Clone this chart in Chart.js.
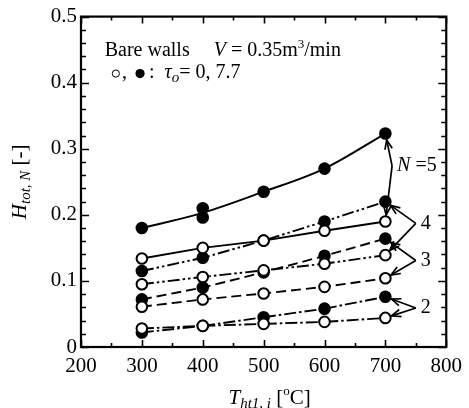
<!DOCTYPE html>
<html>
<head>
<meta charset="utf-8">
<script src="https://cdn.jsdelivr.net/npm/chart.js@4.4.1/dist/chart.umd.min.js"></script>
<style>
  html, body { margin: 0; padding: 0; background: #fff; }
  #wrap { width: 469px; height: 408px; }
</style>
</head>
<body>
<div id="wrap"><canvas id="c" width="469" height="408"></canvas></div>
<script>
// Inlet temperatures of the heating tube [°C]
const temps = [300, 400, 500, 600, 700];

// N = 5, tau_o = 7.7 (filled): measured points (two runs at 400 °C) and fitted curve
const n5FilledX = [300, 400, 400, 500, 600, 700];
const n5FilledY = [0.180, 0.210, 0.196, 0.235, 0.270, 0.323];
const n5FitY    = [0.180, 0.203, 0.235, 0.270, 0.323];
// N = 5, tau_o = 0 (open)
const n5Open    = [0.134, 0.150, 0.161, 0.176, 0.190];
// N = 4
const n4Filled  = [0.115, 0.135, 0.161, 0.190, 0.220];
const n4Open    = [0.095, 0.106, 0.116, 0.126, 0.139];
// N = 3
const n3Filled  = [0.072, 0.090, 0.113, 0.138, 0.164];
const n3Open    = [0.061, 0.072, 0.081, 0.091, 0.104];
// N = 2
const n2Filled  = [0.022, 0.032, 0.045, 0.058, 0.076];
const n2Open    = [0.028, 0.032, 0.035, 0.038, 0.044];

const xTicks = [200, 300, 400, 500, 600, 700, 800];
const yTicks = [0, 0.1, 0.2, 0.3, 0.4, 0.5];

const SERIF = '"Liberation Serif", "Times New Roman", serif';
const DASH = [10, 5];
const DASH_DOT = [12, 3, 2.5, 3];
const DASH_DOT_DOT = [12, 3, 2.5, 3, 2.5, 3];

const pts = (xs, ys) => ys.map((v, i) => ({ x: xs[i], y: v }));

function series(data, filled, dash, extra) {
  return Object.assign({
    data,
    borderColor: '#000',
    borderWidth: 1.9,
    borderDash: dash,
    backgroundColor: filled ? '#000' : '#fff',
    pointBackgroundColor: filled ? '#000' : '#fff',
    pointBorderColor: '#000',
    pointBorderWidth: 2,
    pointRadius: 5.3,
    pointStyle: 'circle',
    tension: 0,
    fill: false
  }, extra || {});
}

const datasets = [
  series(pts(temps, n2Open), false, DASH_DOT),
  series(pts(temps, n3Open), false, DASH),
  series(pts(temps, n4Open), false, DASH_DOT_DOT),
  series(pts(temps, n5Open), false, []),
  series(pts(temps, n2Filled), true, DASH_DOT),
  series(pts(temps, n3Filled), true, DASH),
  series(pts(temps, n4Filled), true, DASH_DOT_DOT),
  series(pts(temps, n5FitY), true, [], { pointRadius: 0, tension: 0.4, cubicInterpolationMode: 'monotone' }),
  series(pts(n5FilledX, n5FilledY), true, [], { showLine: false })
];

// Leader lines from the N labels to the curves they name
const leaders = [
  { text: [{ t: 'N', it: true }, { t: ' =5' }], from: [711, 0.274], to: [[700, 0.323], [700, 0.190]] },
  { text: [{ t: '4' }], from: [750, 0.187], to: [[700, 0.220], [700, 0.139]] },
  { text: [{ t: '3' }], from: [750, 0.131], to: [[700, 0.164], [700, 0.104]] },
  { text: [{ t: '2' }], from: [750, 0.059], to: [[700, 0.076], [700, 0.044]] }
];

function font(size, it) { return (it ? 'italic ' : '') + size + 'px ' + SERIF; }

function measureRich(ctx, segs, base) {
  let w = 0;
  segs.forEach(s => { ctx.font = font(s.size || base, s.it); w += ctx.measureText(s.t).width; });
  return w;
}
function drawRich(ctx, x, y, segs, base) {
  segs.forEach(s => {
    ctx.font = font(s.size || base, s.it);
    ctx.fillText(s.t, x, y + (s.dy || 0));
    x += ctx.measureText(s.t).width;
  });
  return x;
}

function arrow(ctx, x0, y0, x1, y1, r) {
  const a = Math.atan2(y1 - y0, x1 - x0);
  const ex = x1 - Math.cos(a) * r, ey = y1 - Math.sin(a) * r;
  ctx.beginPath(); ctx.moveTo(x0, y0); ctx.lineTo(ex, ey); ctx.stroke();
  const L = 10, h = 0.38;
  ctx.beginPath();
  ctx.moveTo(ex - L * Math.cos(a - h), ey - L * Math.sin(a - h));
  ctx.lineTo(ex, ey);
  ctx.lineTo(ex - L * Math.cos(a + h), ey - L * Math.sin(a + h));
  ctx.stroke();
}

const decor = {
  id: 'decor',
  afterDatasetsDraw(chart) {
    const { ctx, chartArea: ca, scales: { x, y } } = chart;
    ctx.save();
    ctx.strokeStyle = '#000';
    ctx.fillStyle = '#000';

    // frame
    ctx.lineWidth = 2.2;
    ctx.strokeRect(ca.left, ca.top, ca.right - ca.left, ca.bottom - ca.top);

    // inward ticks on all four sides
    ctx.lineWidth = 1.6;
    ctx.beginPath();
    for (let v = 200; v <= 800; v += 50) {
      const px = Math.round(x.getPixelForValue(v)) + 0.5;
      const len = v % 100 === 0 ? 7 : 4;
      ctx.moveTo(px, ca.bottom); ctx.lineTo(px, ca.bottom - len);
      ctx.moveTo(px, ca.top); ctx.lineTo(px, ca.top + len);
    }
    for (let k = 0; k <= 25; k++) {
      const py = Math.round(y.getPixelForValue(k * 0.02)) + 0.5;
      const len = k % 5 === 0 ? 8 : 5;
      ctx.moveTo(ca.left, py); ctx.lineTo(ca.left + len, py);
      ctx.moveTo(ca.right, py); ctx.lineTo(ca.right - len, py);
    }
    ctx.stroke();

    // leader lines and labels
    ctx.lineWidth = 1.7;
    ctx.textBaseline = 'middle';
    ctx.textAlign = 'left';
    leaders.forEach(l => {
      const fx = x.getPixelForValue(l.from[0]), fy = y.getPixelForValue(l.from[1]);
      l.to.forEach(t => arrow(ctx, fx, fy, x.getPixelForValue(t[0]), y.getPixelForValue(t[1]), 6.5));
      drawRich(ctx, fx + 5, fy, l.text, 20);
    });

    // caption inside the plot
    ctx.textBaseline = 'alphabetic';
    const c1y = y.getPixelForValue(0.441);
    ctx.font = font(20);
    ctx.fillText('Bare walls', x.getPixelForValue(239), c1y);
    drawRich(ctx, x.getPixelForValue(418), c1y, [
      { t: 'V', it: true }, { t: ' = 0.35m' }, { t: '3', size: 13, dy: -8 }, { t: '/min' }
    ], 20);

    const c2y = y.getPixelForValue(0.407);
    const cx0 = x.getPixelForValue(251);
    ctx.lineWidth = 1;
    ctx.beginPath(); ctx.arc(cx0 + 3.8, c2y - 4.5, 3.6, 0, Math.PI * 2); ctx.stroke();
    ctx.font = font(20);
    ctx.fillText(',', cx0 + 10, c2y);
    ctx.beginPath(); ctx.arc(cx0 + 28, c2y - 4.5, 4.6, 0, Math.PI * 2); ctx.fill();
    drawRich(ctx, cx0 + 37, c2y, [
      { t: ':  ' }, { t: 'τ', it: true }, { t: 'o', it: true, size: 15, dy: 4 }, { t: '= 0, 7.7' }
    ], 20);

    // axis titles
    const xt = [
      { t: 'T', it: true }, { t: 'ht1, i', it: true, size: 15, dy: 4 }, { t: ' [' },
      { t: 'o', size: 13, dy: -9 }, { t: 'C]' }
    ];
    const xw = measureRich(ctx, xt, 21);
    drawRich(ctx, (ca.left + ca.right) / 2 - xw / 2 + 6, 404, xt, 21);

    const yt = [
      { t: 'H', it: true }, { t: 'tot, N', it: true, size: 15, dy: 4 }, { t: ' [-]' }
    ];
    const yw = measureRich(ctx, yt, 21);
    ctx.translate(26, (ca.top + ca.bottom) / 2);
    ctx.rotate(-Math.PI / 2);
    drawRich(ctx, -yw / 2, 0, yt, 21);
    ctx.restore();
  }
};

new Chart(document.getElementById('c'), {
  type: 'line',
  data: { datasets },
  plugins: [decor],
  options: {
    responsive: false,
    animation: false,
    devicePixelRatio: 1,
    layout: { padding: { top: 15, right: 16, left: 0, bottom: 0 } },
    plugins: { legend: { display: false }, tooltip: { enabled: false } },
    scales: {
      x: {
        type: 'linear', min: 200, max: 800,
        afterBuildTicks: s => { s.ticks = xTicks.map(v => ({ value: v })); },
        afterFit: s => { s.height = 61; },
        grid: { display: false, drawTicks: false },
        border: { display: false },
        ticks: { color: '#000', font: { family: SERIF, size: 21 }, padding: 7, maxRotation: 0 }
      },
      y: {
        type: 'linear', min: 0, max: 0.5,
        afterBuildTicks: s => { s.ticks = yTicks.map(v => ({ value: v })); },
        afterFit: s => { s.width = 81; },
        grid: { display: false, drawTicks: false },
        border: { display: false },
        ticks: {
          color: '#000', font: { family: SERIF, size: 21 }, padding: 4,
          callback: v => (v === 0 ? '0' : v.toFixed(1))
        }
      }
    }
  }
});
</script>
</body>
</html>
